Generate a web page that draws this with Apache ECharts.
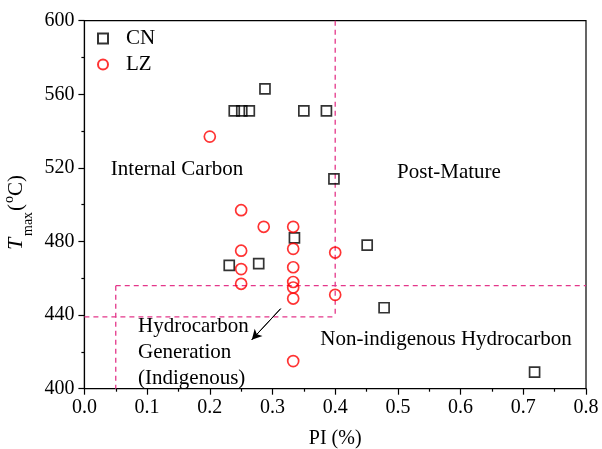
<!DOCTYPE html>
<html>
<head>
<meta charset="utf-8">
<script src="https://cdn.jsdelivr.net/npm/echarts@6/dist/echarts.min.js"></script>
<style>
html,body{margin:0;padding:0;background:#fff;}
#c{width:602px;height:449px;}
</style>
</head>
<body>
<div id="c"></div>
<script>
// ---- data ----
var cnX = [0.288, 0.239, 0.251, 0.263, 0.350, 0.386, 0.398, 0.335, 0.231, 0.278, 0.451, 0.478, 0.718];
var cnY = [563, 551, 551, 551, 551, 551, 514, 482, 467, 468, 478, 444, 409];
var lzX = [0.200, 0.250, 0.250, 0.250, 0.250, 0.286, 0.333, 0.333, 0.333, 0.333, 0.333, 0.333, 0.333, 0.400, 0.400];
var lzY = [537, 497, 475, 465, 457, 488, 488, 476, 466, 458, 455, 449, 415, 474, 451];
var xTicks = [0.0, 0.1, 0.2, 0.3, 0.4, 0.5, 0.6, 0.7, 0.8];
var yTicks = [400, 440, 480, 520, 560, 600];
// region boundaries (PI, Tmax)
var boundA = [[0.4, 600], [0.4, 439]];
var boundB = [[0.05, 456], [0.8, 456]];
var boundC = [[0.05, 456], [0.05, 400]];
var boundD = [[0.0, 439], [0.4, 439]];
var arrowFromTo = [[0.313, 443.5], [0.267, 426.6]];

var FONT = 'Liberation Serif';
var DASH = '#e4378a';

function zip(xs, ys) { return xs.map(function (x, i) { return [x, ys[i]]; }); }

function dashSeries(pts) {
  return {
    type: 'line', data: pts, symbol: 'none', silent: true, z: 1,
    lineStyle: { color: DASH, width: 1.3, type: [5, 4] }
  };
}

var chart = echarts.init(document.getElementById('c'), null, { renderer: 'canvas' });
var option = {
  animation: false,
  backgroundColor: '#fff',
  textStyle: { fontFamily: FONT, color: '#000' },
  grid: { left: 84.4, right: 16, top: 20.7, bottom: 60.3, outerBoundsMode: 'none', containLabel: false, show: true, borderColor: '#000', borderWidth: 1.2, backgroundColor: 'transparent' },
  xAxis: {
    type: 'value', min: xTicks[0], max: xTicks[xTicks.length - 1], interval: 0.1,
    name: 'PI (%)', nameLocation: 'middle', nameGap: 40,
    nameTextStyle: { fontFamily: FONT, fontSize: 20, color: '#000' },
    axisLine: { lineStyle: { color: '#000', width: 1.2 } },
    axisTick: { show: true, length: 6, lineStyle: { color: '#000', width: 1.2 } },
    minorTick: { show: true, splitNumber: 2, length: 3, lineStyle: { color: '#000', width: 1.2 } },
    splitLine: { show: false },
    axisLabel: { fontFamily: FONT, fontSize: 20, color: '#000', margin: 9, formatter: function (v) { return v.toFixed(1); } }
  },
  yAxis: {
    type: 'value', min: yTicks[0], max: yTicks[yTicks.length - 1], interval: 40,
    axisLine: { show: true, lineStyle: { color: '#000', width: 1.2 } },
    axisTick: { show: true, length: 6, lineStyle: { color: '#000', width: 1.2 } },
    minorTick: { show: true, splitNumber: 2, length: 3, lineStyle: { color: '#000', width: 1.2 } },
    splitLine: { show: false },
    axisLabel: { fontFamily: FONT, fontSize: 20, color: '#000', margin: 10 }
  },
  legend: {
    orient: 'vertical', left: 92, top: 23, itemGap: 5, itemWidth: 10, itemHeight: 10,
    textStyle: { fontFamily: FONT, fontSize: 21, color: '#000', padding: [0, 0, 0, 13] },
    data: [{ name: 'CN', icon: 'rect' }, { name: 'LZ', icon: 'circle' }]
  },
  series: [
    dashSeries(boundA), dashSeries(boundB), dashSeries(boundC), dashSeries(boundD),
    {
      type: 'line', data: arrowFromTo, symbol: 'none', silent: true, z: 2,
      lineStyle: { color: '#000', width: 1 },
      markLine: {
        silent: true, symbol: ['none', 'arrow'], symbolSize: [8, 10], label: { show: false },
        lineStyle: { color: '#000', width: 1, type: 'solid' },
        data: [[{ coord: arrowFromTo[0] }, { coord: arrowFromTo[1] }]]
      }
    },
    {
      name: 'CN', type: 'scatter', symbol: 'rect', symbolSize: 10, z: 5,
      data: zip(cnX, cnY),
      itemStyle: { color: 'rgba(255,255,255,0)', borderColor: '#000', borderWidth: 1.7 }
    },
    {
      name: 'LZ', type: 'scatter', symbol: 'circle', symbolSize: 11, z: 5,
      data: zip(lzX, lzY),
      itemStyle: { color: 'rgba(255,255,255,0)', borderColor: '#ff0000', borderWidth: 1.7 }
    }
  ],
  graphic: [
    { type: 'text', x: 177, y: 169, style: { text: 'Internal Carbon', font: '21px "Liberation Serif"', fill: '#000', align: 'center', verticalAlign: 'middle' } },
    { type: 'text', x: 449, y: 172, style: { text: 'Post-Mature', font: '21px "Liberation Serif"', fill: '#000', align: 'center', verticalAlign: 'middle' } },
    { type: 'text', x: 138, y: 326, style: { text: 'Hydrocarbon', font: '21px "Liberation Serif"', fill: '#000', align: 'left', verticalAlign: 'middle' } },
    { type: 'text', x: 138, y: 352, style: { text: 'Generation', font: '21px "Liberation Serif"', fill: '#000', align: 'left', verticalAlign: 'middle' } },
    { type: 'text', x: 138, y: 378, style: { text: '(Indigenous)', font: '21px "Liberation Serif"', fill: '#000', align: 'left', verticalAlign: 'middle' } },
    { type: 'text', x: 446, y: 339, style: { text: 'Non-indigenous Hydrocarbon', font: '21px "Liberation Serif"', fill: '#000', align: 'center', verticalAlign: 'middle' } },
    {
      type: 'group', x: 16, y: 207, rotation: Math.PI / 2,
      children: [
        { type: 'text', x: -43, y: 0, style: { text: 'T', font: 'italic 22px "Liberation Serif"', fill: '#000', align: 'left', verticalAlign: 'middle' } },
        { type: 'text', x: -29, y: 12, style: { text: 'max', font: '14px "Liberation Serif"', fill: '#000', align: 'left', verticalAlign: 'middle' } },
        { type: 'text', x: -4, y: 0, style: { text: '(', font: '21px "Liberation Serif"', fill: '#000', align: 'left', verticalAlign: 'middle' } },
        { type: 'text', x: 4, y: -7, style: { text: 'o', font: '14px "Liberation Serif"', fill: '#000', align: 'left', verticalAlign: 'middle' } },
        { type: 'text', x: 11, y: 0, style: { text: 'C)', font: '21px "Liberation Serif"', fill: '#000', align: 'left', verticalAlign: 'middle' } }
      ]
    }
  ]
};
chart.setOption(option);
</script>
</body>
</html>
